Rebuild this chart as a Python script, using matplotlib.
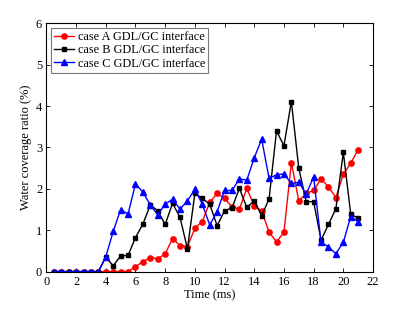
import numpy as np
import matplotlib
matplotlib.use('Agg')
import matplotlib.pyplot as plt

plt.rcParams['font.family'] = ['Liberation Serif', 'DejaVu Serif']
plt.rcParams['font.size'] = 9

# time axis (ms), 0.5 ms steps
t = np.arange(0.5, 21.01, 0.5)

# case A GDL/GC interface
case_a = [0, 0, 0, 0, 0, 0, 0,
          0, 0, 0, 0, 0.12, 0.24, 0.34, 0.31, 0.43, 0.80, 0.63, 0.60,
          1.05, 1.21, 1.67, 1.89, 1.77, 1.56, 1.51, 2.01, 1.59, 1.47,
          0.95, 0.72, 0.95, 2.63, 1.71, 1.89, 1.96, 2.24, 2.05, 1.79,
          2.35, 2.62, 2.95]

# case B GDL/GC interface
case_b = [0, 0, 0, 0, 0, 0, 0,
          0.35, 0.14, 0.38, 0.39, 0.82, 1.15, 1.61, 1.47, 1.14, 1.65, 1.31, 0.55,
          1.89, 1.77, 1.63, 1.11, 1.47, 1.54, 2.01, 1.55, 1.71, 1.35,
          1.76, 3.40, 3.04, 4.11, 2.50, 1.69, 1.69, 0.76, 1.14, 1.52,
          2.88, 1.39, 1.29]

# case C GDL/GC interface
case_c = [0, 0, 0, 0, 0, 0, 0,
          0.36, 0.97, 1.50, 1.39, 2.12, 1.92, 1.61, 1.37, 1.63, 1.75, 1.51, 1.71,
          1.99, 1.63, 1.13, 1.45, 1.96, 1.96, 2.24, 2.21, 2.75, 3.20,
          2.25, 2.34, 2.36, 2.13, 2.16, 1.87, 2.29, 0.71, 0.60, 0.43,
          0.71, 1.33, 1.21]

fig = plt.figure(figsize=(4.07, 3.09), dpi=100)
ax = fig.add_axes([0.114, 0.121, 0.8025, 0.8036])

ax.plot(t, case_a, '-o', color='red', ms=3.8, lw=1, label='case A GDL/GC interface')
ax.plot(t, case_b, '-s', color='black', ms=3.3, lw=1, label='case B GDL/GC interface')
ax.plot(t, case_c, '-^', color='blue', ms=4.2, lw=1, label='case C GDL/GC interface')

ax.set_xlim(0, 22)
ax.set_ylim(0, 6)
ax.set_xticks(range(0, 23, 2))
ax.set_yticks(range(0, 7))
ax.tick_params(direction='in', top=True, right=True, length=3, width=0.6, pad=3)
for s in ax.spines.values():
    s.set_linewidth(0.8)

ax.set_xlabel('Time (ms)', labelpad=1)
ax.set_ylabel('Water coverage ratio (%)', labelpad=3)

leg = ax.legend(loc='upper left', fontsize=8.8, handlelength=1.6, handletextpad=0.3,
                borderpad=0.25, labelspacing=0.1, borderaxespad=0.4, fancybox=False)
leg.get_frame().set_edgecolor('#555555')
leg.get_frame().set_linewidth(0.8)

fig.savefig('out.png', dpi=100)
